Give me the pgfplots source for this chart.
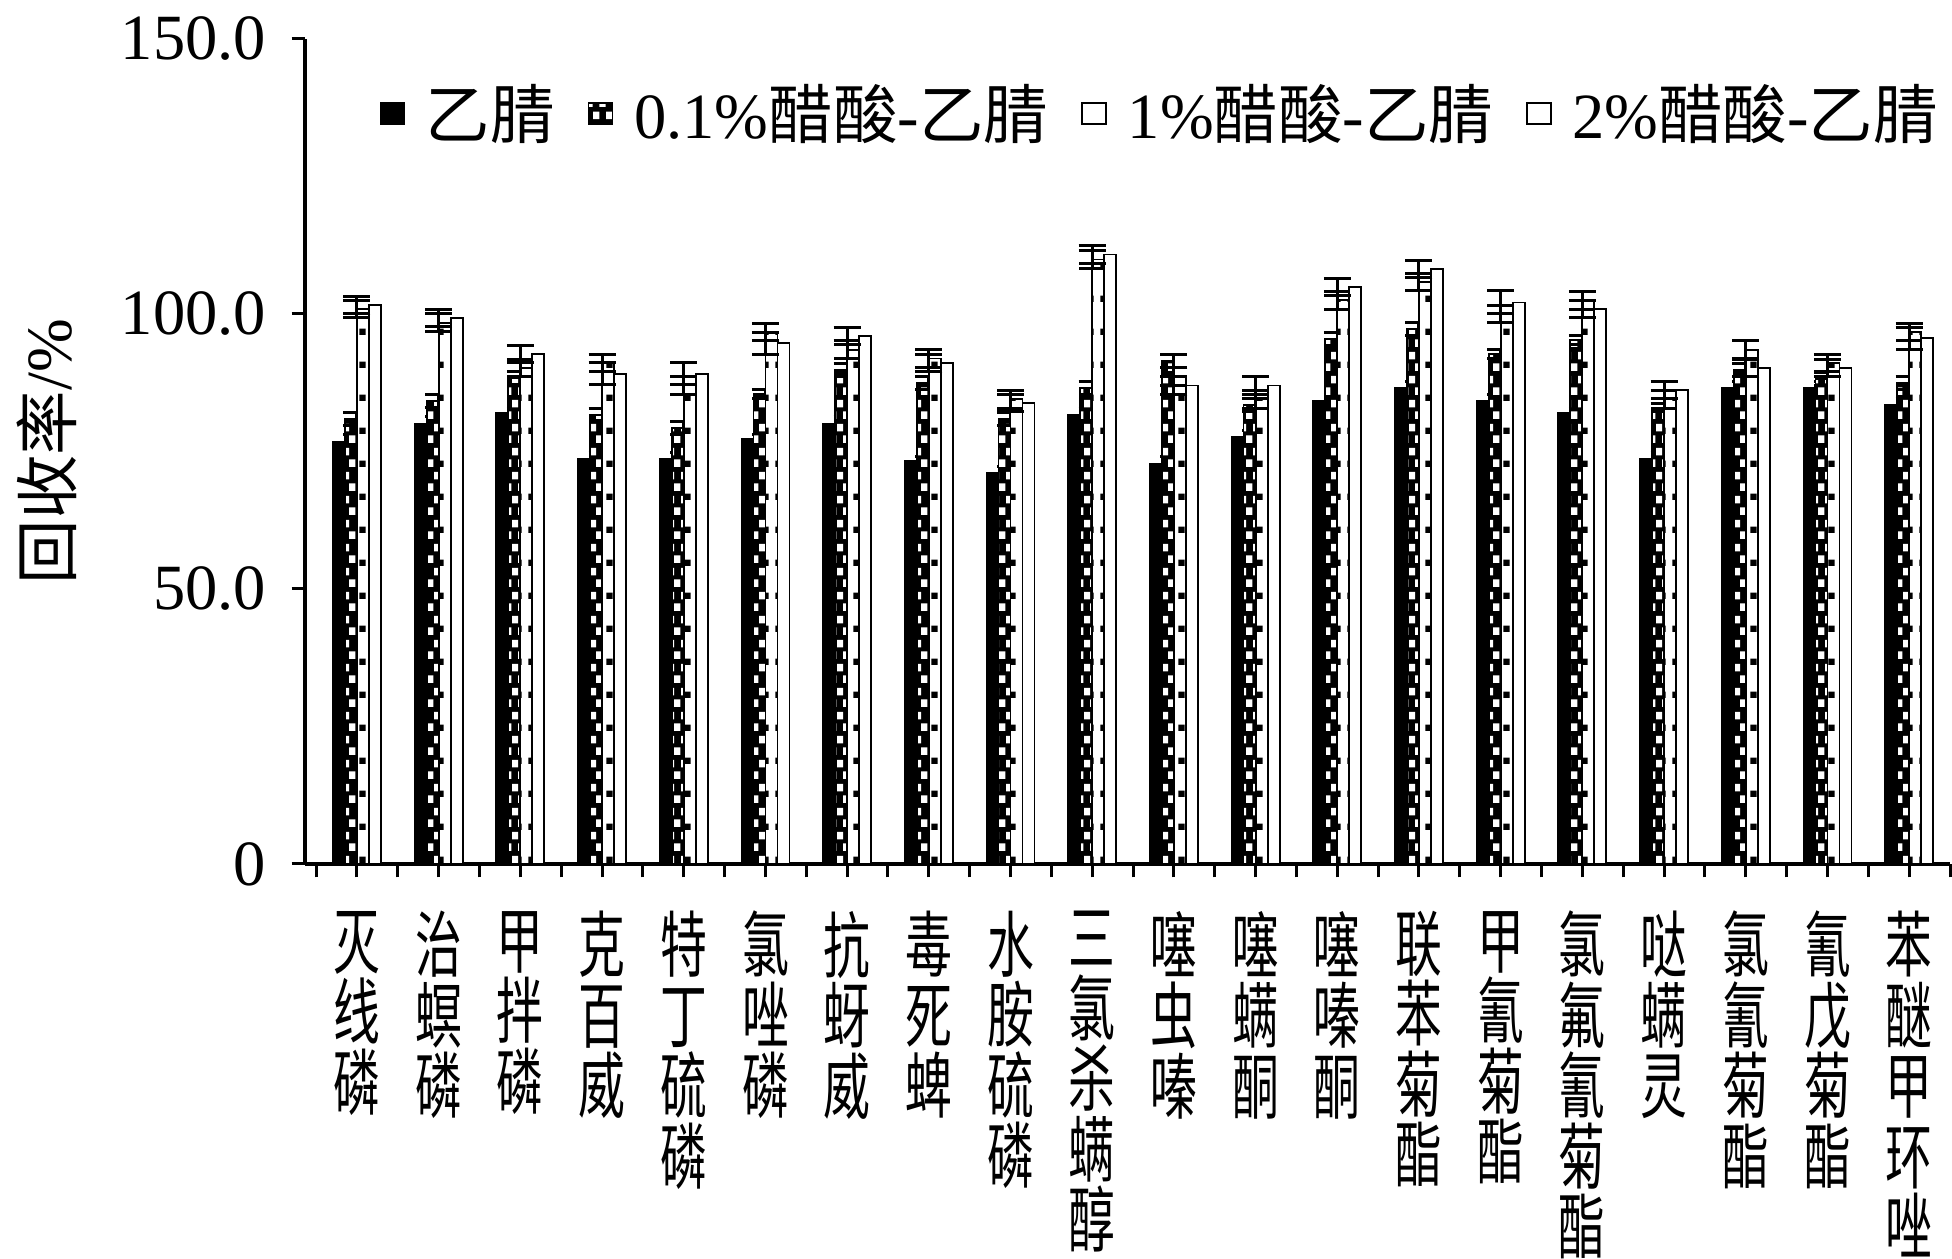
\documentclass[border=0pt]{standalone}
\usepackage{fontspec}
\setmainfont{Liberation Serif}
\newfontfamily\cjk{Noto Sans CJK SC}
\usepackage{graphicx}
\usepackage{pgfplots}
\pgfplotsset{compat=1.18}
\usepackage{pgfplotstable}
\usetikzlibrary{patterns}

\newcommand\fs{\fontsize{21.5pt}{21.7pt}\selectfont}
% vertical (stacked) category names: one character per line
\makeatletter
\newcommand\vl[1]{\scalebox{0.65}[1]{\cjk\fontsize{24pt}{23.5pt}\selectfont
  \vtop{\lineskiplimit=-\maxdimen \baselineskip=23.5pt
    \@tfor\vl@c:=#1\do{\hbox to 24pt{\hss\vl@c\hss}}}}}
\makeatother
\newcommand\zh[1]{{\cjk #1}}

% white holes on black (0.1% series)
\pgfdeclarepatternformonly{holes}{\pgfpointorigin}{\pgfpoint{4.4pt}{8pt}}{\pgfpoint{4.4pt}{8pt}}{%
  \pgfpathrectangle{\pgfpoint{2.2pt}{0pt}}{\pgfpoint{2.2pt}{2.6pt}}%
  \pgfpathrectangle{\pgfpoint{0pt}{4pt}}{\pgfpoint{2.2pt}{2.6pt}}%
  \pgfusepath{fill}}
% small black squares on white (1% series)
\pgfdeclarepatternformonly{sq}{\pgfpointorigin}{\pgfpoint{4.4pt}{11pt}}{\pgfpoint{4.4pt}{11pt}}{%
  \pgfpathrectangle{\pgfpoint{1.2pt}{0pt}}{\pgfpoint{2.2pt}{2.2pt}}%
  \pgfusepath{fill}}

% x  a ea  b eb  c ec  d ed   (乙腈, 0.1%, 1%, 2%)
\pgfplotstableread{
x a ea b eb c ec d ed
0 76.8 1.3 80.9 1.2 100.9 1.6 101.6 1.6
1 80.1 1.2 84.2 1.2 98.4 1.6 99.3 1.6
2 82.1 0.8 88.3 1.2 90.2 1.6 92.7 1.6
3 73.6 1.2 81.7 1.2 91.1 1.6 89.1 2.0
4 73.6 1.2 79.3 1.2 87.0 1.6 89.1 2.0
5 77.3 0.8 85.4 0.8 96.7 1.6 94.7 2.0
6 80.1 1.2 89.8 1.2 93.5 1.6 96.0 1.6
7 73.2 0.8 87.4 1.2 91.9 1.6 91.1 1.6
8 71.1 1.2 80.9 1.2 84.5 1.6 83.8 1.6
9 81.7 1.2 86.6 1.2 109.9 1.6 110.8 1.6
10 72.8 1.2 91.5 1.2 88.6 1.6 87.0 1.6
11 77.7 1.2 83.4 1.2 84.5 1.6 87.0 1.6
12 84.2 1.2 95.5 1.2 102.5 1.6 104.9 1.6
13 86.6 1.2 97.2 1.2 105.8 1.6 108.2 1.6
14 84.2 1.2 92.7 0.8 100.0 1.6 102.1 2.1
15 82.1 0.8 95.2 0.8 102.5 1.6 100.9 1.6
16 73.6 1.2 83.0 0.8 84.5 1.6 86.2 1.6
17 86.6 1.2 89.8 1.2 93.5 1.6 90.2 1.6
18 86.6 1.2 88.2 1.2 91.1 1.6 90.2 1.6
19 83.4 1.2 87.4 1.2 96.7 1.6 95.6 2.0
}\data

\pgfplotsset{
  mybar/.style={ybar, bar width=0.147, draw=black, line width=0.6pt,
    legend image code/.code={%
      \draw[##1] (0pt,-3.5pt) rectangle (8pt,3.5pt);
      \path[draw=none, fill=none] (13pt,0pt);},
    error bars/y dir=both, error bars/y explicit,
    error bars/error bar style={line width=1pt, black, solid},
    error bars/error mark options={rotate=90, mark size=4.5pt, line width=1pt, black}},
}

\begin{document}
\begin{tikzpicture}
\useasboundingbox (0,0) rectangle (650.67pt,419.67pt);
\begin{axis}[
  at={(101.67pt,131.67pt)}, anchor=south west,
  scale only axis, width=548.33pt, height=275pt,
  xmin=-0.636, xmax=19.5, ymin=0, ymax=150,
  axis lines*=left,
  axis line style={line width=1.2pt, -},
  tick align=outside,
  tick style={line width=1pt, black},
  major tick length=4.5pt, minor tick length=4.5pt,
  ytick={0,50,100,150},
  yticklabels={0,50.0,100.0,150.0},
  yticklabel style={font=\fs, xshift=-5pt},
  xtick={0,...,19},
  minor xtick={-0.5,0.5,...,19.5},
  xticklabels={
    {\vl{灭线磷}},{\vl{治螟磷}},{\vl{甲拌磷}},{\vl{克百威}},
    {\vl{特丁硫磷}},{\vl{氯唑磷}},{\vl{抗蚜威}},{\vl{毒死蜱}},
    {\vl{水胺硫磷}},{\vl{三氯杀螨醇}},{\vl{噻虫嗪}},{\vl{噻螨酮}},
    {\vl{噻嗪酮}},{\vl{联苯菊酯}},{\vl{甲氰菊酯}},{\vl{氯氟氰菊酯}},
    {\vl{哒螨灵}},{\vl{氯氰菊酯}},{\vl{氰戊菊酯}},{\vl{苯醚甲环唑}}},
  xticklabel style={anchor=north, inner sep=0pt, yshift=-11pt},
  ylabel={\zh{回收率}/\%},
  ylabel style={font=\fs, at={(axis description cs:-0.157,0.5)}, anchor=center},
  legend style={draw=none, fill=none, inner sep=0pt, font=\fs,
    at={(rel axis cs:0.045,0.91)}, anchor=west,
    /tikz/every even column/.append style={column sep=9pt}},
  legend columns=4,
  legend cell align=left,
]
\addplot[mybar, bar shift=-0.2205, fill=black]
  table[x=x, y=a, y error=ea] {\data};
\addlegendentry{\zh{乙腈}}
\addplot[mybar, bar shift=-0.0735, preaction={fill=black},
    pattern=holes, pattern color=white]
  table[x=x, y=b, y error=eb] {\data};
\addlegendentry{0.1\%\zh{醋酸}-\zh{乙腈}}
\addplot[mybar, bar shift=0.0735, preaction={fill=white},
    pattern=sq, pattern color=black]
  table[x=x, y=c, y error=ec] {\data};
\addlegendentry{1\%\zh{醋酸}-\zh{乙腈}}
\addplot[mybar, bar shift=0.2205, fill=white]
  table[x=x, y=d, y error=ed] {\data};
\addlegendentry{2\%\zh{醋酸}-\zh{乙腈}}
\end{axis}
\end{tikzpicture}
\end{document}
